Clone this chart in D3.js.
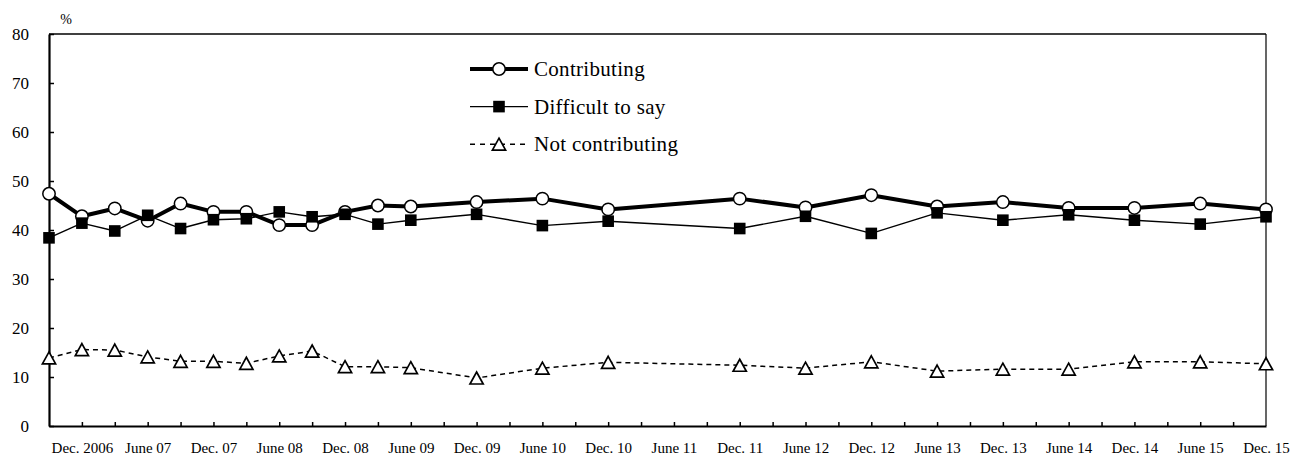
<!DOCTYPE html>
<html>
<head>
<meta charset="utf-8">
<script src="https://cdn.jsdelivr.net/npm/d3@7"></script>
<style>
  body { margin: 0; background: #fff; }
  svg { display: block; }
  text { font-family: "Liberation Serif", "Times New Roman", serif; fill: #000; }
</style>
</head>
<body>
<svg id="chart" width="1306" height="455"></svg>
<script>
// Survey periods (year-month)
const periods = [
  "2006-09","2006-12","2007-03","2007-06","2007-09","2007-12","2008-03","2008-06",
  "2008-09","2008-12","2009-03","2009-06","2009-12","2010-06","2010-12","2011-12",
  "2012-06","2012-12","2013-06","2013-12","2014-06","2014-12","2015-06","2015-12"
];
const contributing = [
  47.4, 42.8, 44.4, 41.9, 45.4, 43.7, 43.7, 41.0,
  41.0, 43.7, 45.0, 44.8, 45.7, 46.4, 44.2, 46.4,
  44.6, 47.1, 44.8, 45.7, 44.5, 44.5, 45.4, 44.2
];
const difficultToSay = [
  38.4, 41.4, 39.8, 43.0, 40.3, 42.1, 42.3, 43.7,
  42.7, 43.2, 41.2, 42.0, 43.2, 40.9, 41.8, 40.3,
  42.8, 39.3, 43.5, 42.0, 43.1, 42.0, 41.2, 42.7
];
const notContributing = [
  13.9, 15.6, 15.5, 14.1, 13.2, 13.2, 12.8, 14.3,
  15.3, 12.1, 12.1, 11.9, 9.8, 11.8, 13.0, 12.4,
  11.8, 13.1, 11.2, 11.6, 11.6, 13.1, 13.1, 12.7
];
const seriesNames = ["Contributing", "Difficult to say", "Not contributing"];

const tickLabels = [
  "Dec. 2006","June 07","Dec. 07","June 08","Dec. 08","June 09","Dec. 09","June 10",
  "Dec. 10","June 11","Dec. 11","June 12","Dec. 12","June 13","Dec. 13","June 14",
  "Dec. 14","June 15","Dec. 15"
];
const tickPeriods = [
  "2006-12","2007-06","2007-12","2008-06","2008-12","2009-06","2009-12","2010-06",
  "2010-12","2011-06","2011-12","2012-06","2012-12","2013-06","2013-12","2014-06",
  "2014-12","2015-06","2015-12"
];
const yTicks = [0, 10, 20, 30, 40, 50, 60, 70, 80];

// month index so that every month gets equal width
const monthIndex = s => { const [yy, mm] = s.split("-").map(Number); return yy * 12 + mm - 1; };

const serif = "'Liberation Serif', 'Times New Roman', serif";
const svg = d3.select("#chart");
const plotLeft = 49, plotRight = 1266, plotTop = 34, plotBottom = 426;

const x = d3.scaleLinear()
  .domain([monthIndex(periods[0]), monthIndex(periods[periods.length - 1])])
  .range([plotLeft, plotRight]);
const y = d3.scaleLinear().domain([0, 80]).range([plotBottom, plotTop]);

// frame: top and right edges
svg.append("line").attr("x1", plotLeft).attr("x2", plotRight).attr("y1", plotTop).attr("y2", plotTop)
  .attr("stroke", "#000").attr("stroke-width", 1.5);
svg.append("line").attr("x1", plotRight).attr("x2", plotRight).attr("y1", plotTop).attr("y2", plotBottom)
  .attr("stroke", "#000").attr("stroke-width", 1.2);

// quarterly tick marks along the bottom
const quarterTicks = d3.range(monthIndex("2006-12"), monthIndex("2015-12"), 3);
const xAxis = svg.append("g").attr("transform", `translate(0,${plotBottom})`)
  .call(d3.axisBottom(x).tickValues(quarterTicks).tickSize(-4).tickSizeOuter(0).tickFormat(""));
xAxis.select(".domain").attr("stroke-width", 2.2);
xAxis.selectAll(".tick line").attr("stroke-width", 1.5);

// half-year labels
const xLabels = svg.append("g").attr("transform", `translate(0,${plotBottom})`)
  .call(d3.axisBottom(x).tickValues(tickPeriods.map(monthIndex)).tickSize(0).tickPadding(16)
    .tickFormat((d, i) => tickLabels[i]));
xLabels.attr("font-family", serif);
xLabels.select(".domain").remove();
xLabels.selectAll("text").style("font-size", "15px").style("font-family", serif);

// y axis
const yAxis = svg.append("g").attr("transform", `translate(${plotLeft},0)`)
  .call(d3.axisLeft(y).tickValues(yTicks).tickSize(-5).tickSizeOuter(0).tickPadding(20));
yAxis.attr("font-family", serif);
yAxis.select(".domain").attr("stroke-width", 2.2);
yAxis.selectAll(".tick line").attr("stroke-width", 1.5);
yAxis.selectAll("text").style("font-size", "17px").style("font-family", serif);

svg.append("text").attr("x", 66).attr("y", 24).attr("text-anchor", "middle")
  .style("font-size", "14px").style("font-family", serif).text("%");

// marker drawers
const markers = {
  circle: (g) => g.append("circle").attr("r", 6.2).attr("fill", "#fff").attr("stroke", "#000").attr("stroke-width", 1.5),
  square: (g) => g.append("rect").attr("x", -5.8).attr("y", -5.8).attr("width", 11.6).attr("height", 11.6).attr("fill", "#000"),
  triangle: (g) => g.append("path").attr("d", "M0,-6 L6.6,6 L-6.6,6 Z").attr("fill", "#fff").attr("stroke", "#000").attr("stroke-width", 1.7).attr("stroke-linejoin", "miter")
};

const series = [
  { name: seriesNames[0], values: contributing, width: 4, dash: null, marker: "circle" },
  { name: seriesNames[1], values: difficultToSay, width: 1.4, dash: null, marker: "square" },
  { name: seriesNames[2], values: notContributing, width: 1.5, dash: "5,4", marker: "triangle" }
];

const line = d3.line().x(d => x(monthIndex(d.p))).y(d => y(d.v));

series.forEach(s => {
  const pts = periods.map((p, i) => ({ p, v: s.values[i] }));
  svg.append("path").datum(pts).attr("d", line).attr("fill", "none")
    .attr("stroke", "#000").attr("stroke-width", s.width)
    .attr("stroke-dasharray", s.dash).attr("stroke-linejoin", "round");
  svg.append("g").selectAll("g").data(pts).join("g")
    .attr("transform", d => `translate(${x(monthIndex(d.p))},${y(d.v)})`)
    .each(function () { markers[s.marker](d3.select(this)); });
});

// legend
const legend = svg.append("g");
series.forEach((s, i) => {
  const ly = 69 + i * 37.6;
  legend.append("line").attr("x1", 470).attr("x2", 528).attr("y1", ly).attr("y2", ly)
    .attr("stroke", "#000").attr("stroke-width", s.width)
    .attr("stroke-dasharray", s.dash ? "5,5" : null);
  const mg = legend.append("g").attr("transform", `translate(499,${ly})`);
  markers[s.marker](mg);
  legend.append("text").attr("x", 534).attr("y", ly + 7)
    .style("font-size", "21px").style("font-family", serif)
    .style("letter-spacing", "0.3px").text(s.name);
});
</script>
</body>
</html>
